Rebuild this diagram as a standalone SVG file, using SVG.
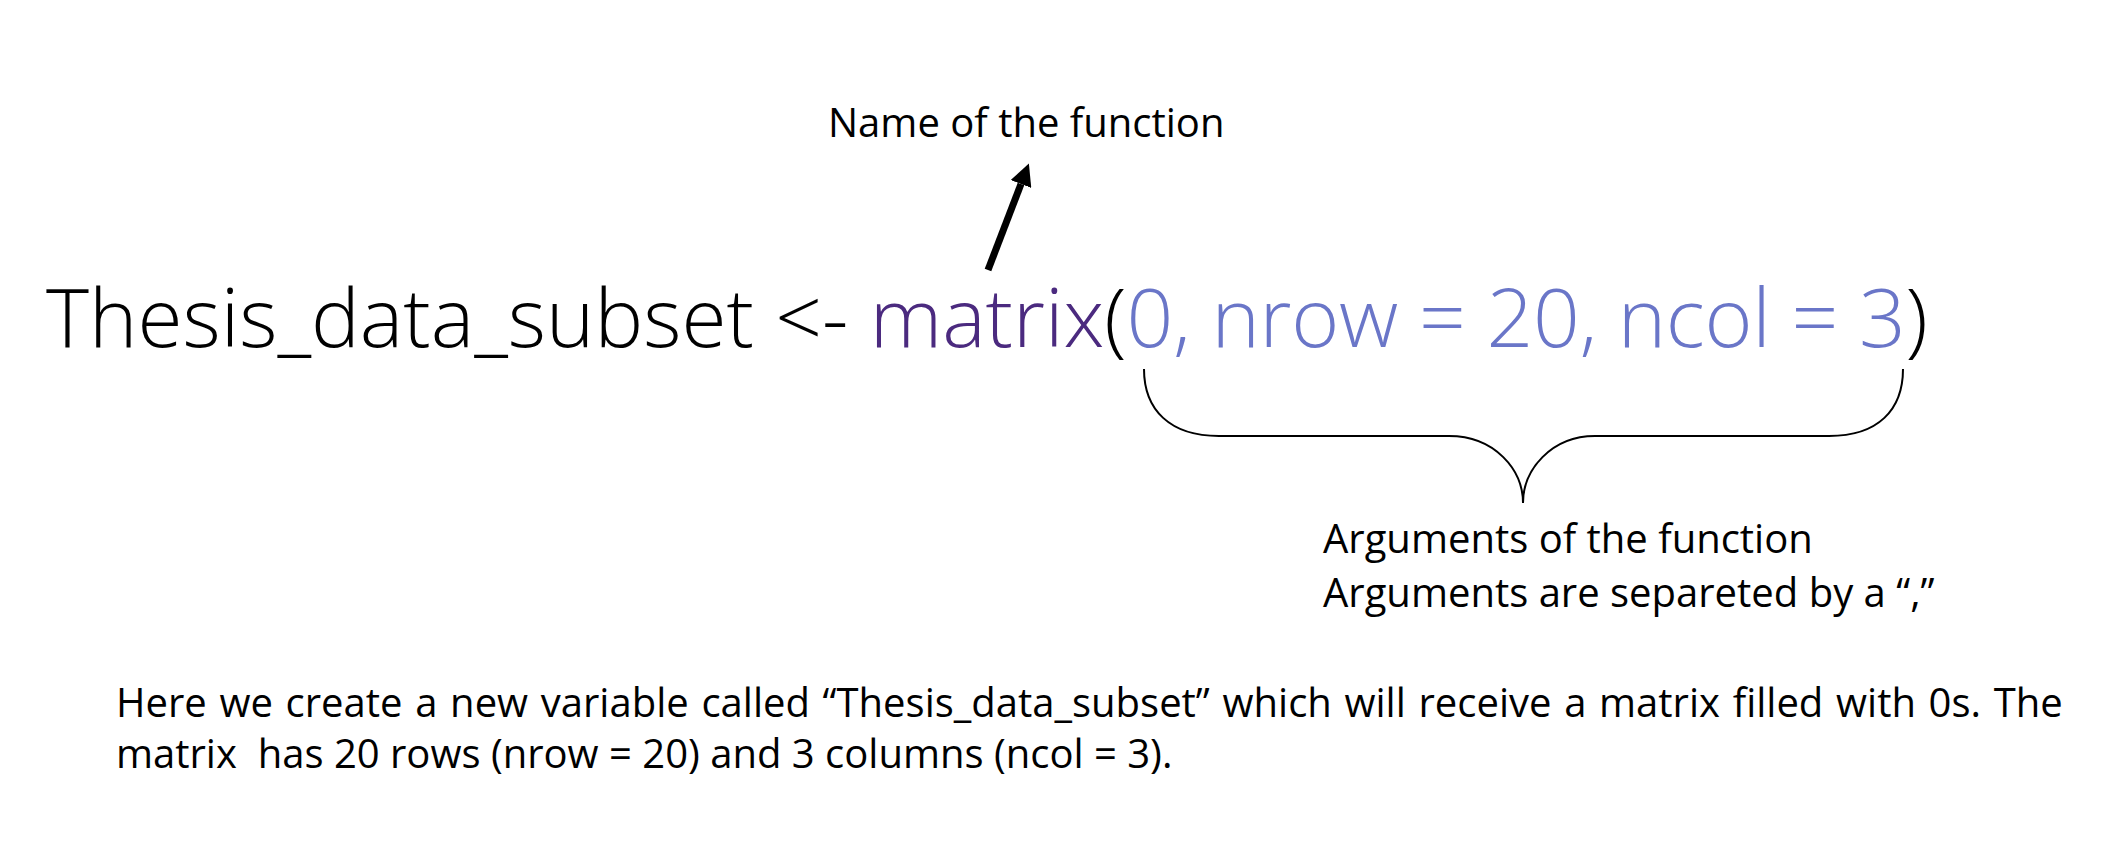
<svg xmlns="http://www.w3.org/2000/svg" width="2106" height="850" viewBox="0 0 2106 850">
<style>
.code{font-family:"Open Sans",sans-serif;font-weight:300;font-size:82px;fill:#000}
.lbl{font-family:"Open Sans",sans-serif;font-size:40px;fill:#000;white-space:pre}
.fn{fill:#4b2a7f}
.arg{fill:#6a76c8;letter-spacing:-0.3px}
.conn{fill:none;stroke:#000}
</style>
<defs>
<marker id="ah" viewBox="0 0 10 10" refX="0" refY="5" markerWidth="22" markerHeight="22" orient="auto" markerUnits="userSpaceOnUse">
<path d="M0,0 L10,5 L0,10 z" fill="#000"/>
</marker>
</defs>
<rect width="2106" height="850" fill="#fff"/>
<g id="code">
<text class="code" x="46" y="347">Thesis_data_subset &lt;- <tspan class="fn">matrix</tspan>(<tspan class="arg">0, nrow = 20, ncol = 3</tspan>)</text>
</g>
<g id="name-label">
<text class="lbl" x="828" y="137">Name of the function</text>
</g>
<g id="args-label">
<text class="lbl" x="1323" y="553">Arguments of the function</text>
<text class="lbl" x="1323" y="607">Arguments are separeted by a “,”</text>
</g>
<g id="description">
<text class="lbl" x="116" y="717" word-spacing="2.3">Here we create a new variable called “Thesis_data_subset” which will receive a matrix filled with 0s. The</text>
<text class="lbl" x="116" y="768">matrix  has 20 rows (nrow = 20) and 3 columns (ncol = 3).</text>
</g>
<g id="connectors">
<line class="conn" x1="988" y1="270" x2="1021" y2="184" stroke-width="7" marker-end="url(#ah)"/>
<path class="conn" stroke-width="2" d="M1144,369 C1144,410 1170,436 1219,436 L1449,436 C1495,436 1523,470 1523,503 C1523,470 1551,436 1595,436 L1829,436 C1878,436 1903,410 1903,369"/>
</g>
</svg>
